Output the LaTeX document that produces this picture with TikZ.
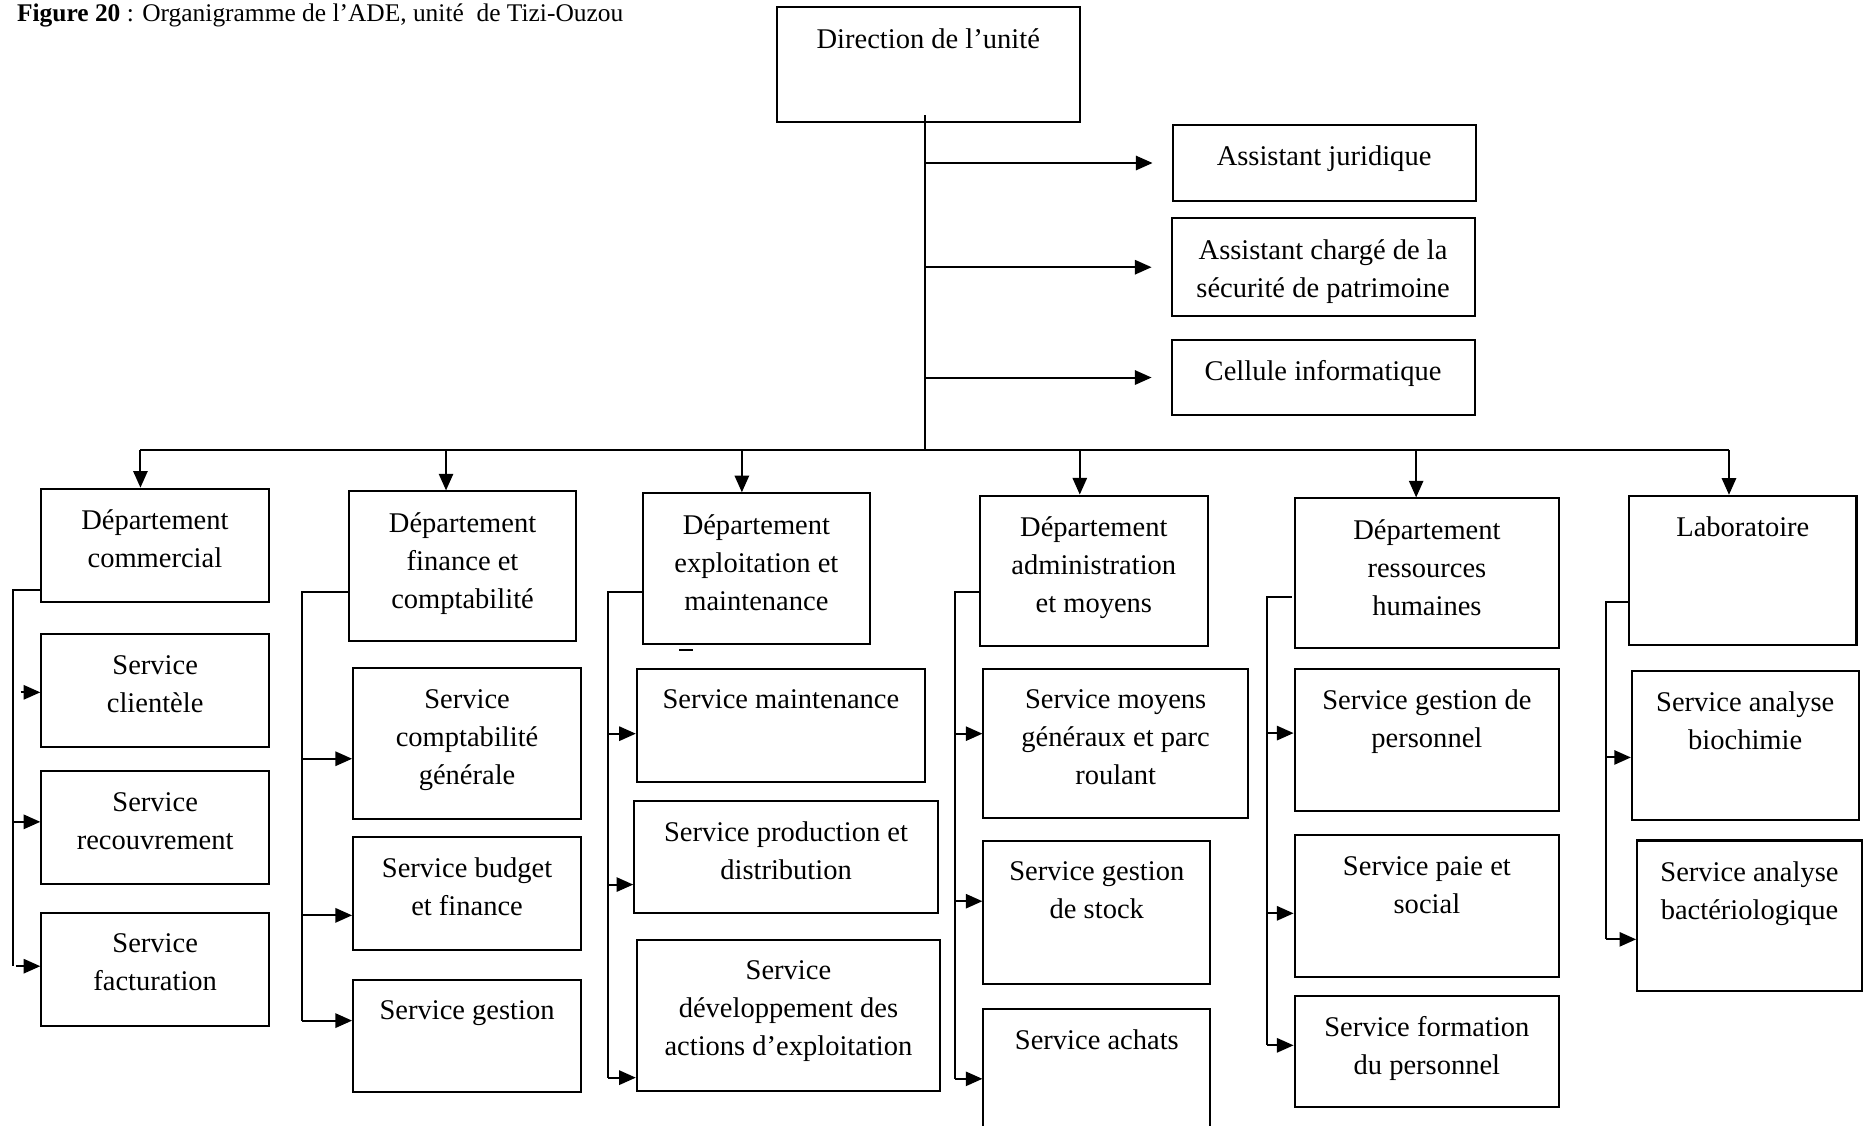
\documentclass[tikz,border=0pt]{standalone}
\usepackage{fontspec}
\setmainfont{Liberation Serif}
\usetikzlibrary{arrows.meta,fit}

\begin{document}
\begin{tikzpicture}[x=0.5pt,y=-0.5pt]
    \tikzset{
      box/.style={draw, line width=0.85pt, inner sep=0pt, rectangle},
      txt/.style={anchor=north, yshift=-9pt, inner sep=0pt, align=center,
                  font=\fontsize{12}{16}\selectfont},
      lien/.style={line width=0.85pt},
      mince/.style={line width=0.6pt},
      fleche/.style={line width=0.85pt, -{Triangle[length=7pt, width=6pt]}}
    }
    \useasboundingbox (0,0) rectangle (1568,947);

    % Titre
    \node[anchor=base west, inner sep=0pt, font=\fontsize{10.7}{12}\selectfont] (titre) at (14,18)
      {\textbf{Figure 20} : Organigramme de l’ADE, unité~ de Tizi-Ouzou};

    % Direction et assistants
    \node[box, fit={(653.8,6.2) (908.7,102.4)}, label={[txt]north:{Direction de l’unité}}] (dir) {};
    \node[box, fit={(986.9,105.2) (1241.9,169.2)}, label={[txt]north:{Assistant juridique}}] (ajur) {};
    \node[box, fit={(986.1,183.8) (1241.1,266)}, label={[txt]north:{Assistant chargé de la\\sécurité de patrimoine}}] (asec) {};
    \node[box, fit={(986.1,286.2) (1241.1,349.3)}, label={[txt]north:{Cellule informatique}}] (cinf) {};

    \coordinate (tronc) at (778.6,96.8);
    \coordinate (busG) at (118.2,378.8);
    \coordinate (busD) at (1455.2,378.8);
    \draw[mince] (tronc) -- (tronc |- busG);
    \draw[fleche, shorten >=8pt] (tronc |- ajur.west) -- (ajur.west);
    \draw[fleche, shorten >=8pt] (tronc |- asec.west) -- (asec.west);
    \draw[fleche, shorten >=8pt] (tronc |- cinf.west) -- (cinf.west);
    \draw[lien] (busG) -- (busD);

    % Departement commercial
    \node[box, fit={(34.8,411.3) (226,506.7)}, label={[txt]north:{Département\\commercial}}] (dcom) {};
    \node[box, fit={(34.8,534) (226.4,629.1)}, label={[txt]north:{Service\\clientèle}}] (scli) {};
    \node[box, fit={(34.8,649.3) (226.4,744.4)}, label={[txt]north:{Service\\recouvrement}}] (srec) {};
    \node[box, fit={(34.8,768.5) (226.4,863.6)}, label={[txt]north:{Service\\facturation}}] (sfac) {};

    % Departement finance et comptabilite
    \node[box, fit={(293.6,413.6) (485,539.8)}, label={[txt]north:{Département\\finance et\\comptabilité}}] (dfin) {};
    \node[box, fit={(297.2,562.5) (489,689.5)}, label={[txt]north:{Service\\comptabilité\\générale}}] (scpt) {};
    \node[box, fit={(297.2,704.1) (489,799.3)}, label={[txt]north:{Service budget\\et finance}}] (sbud) {};
    \node[box, fit={(297.2,824.9) (489,919.2)}, label={[txt]north:{Service gestion}}] (sges) {};

    % Departement exploitation et maintenance
    \node[box, fit={(541.1,415.2) (732.1,541.9)}, label={[txt]north:{Département\\exploitation et\\maintenance}}] (dexp) {};
    \node[box, fit={(536,563.1) (778.5,658)}, label={[txt]north:{Service maintenance}}] (smnt) {};
    \node[box, fit={(533.8,674.1) (789.4,768.3)}, label={[txt]north:{Service production et\\distribution}}] (sprd) {};
    \node[box, fit={(536,791.2) (791.2,918)}, label={[txt]north:{Service\\développement des\\actions d’exploitation}}] (sdev) {};
    \draw[lien] (571.5,546.7) -- (583.1,546.7);

    % Departement administration et moyens
    \node[box, fit={(824.8,417.1) (1016.4,543.8)}, label={[txt]north:{Département\\administration\\et moyens}}] (dadm) {};
    \node[box, fit={(827.7,562.7) (1050.3,688.6)}, label={[txt]north:{Service moyens\\généraux et parc\\roulant}}] (smoy) {};
    \node[box, fit={(827.7,708) (1018.6,827.8)}, label={[txt]north:{Service gestion\\de stock}}] (sstk) {};
    \node[box, fit={(827.7,849.3) (1018.6,965)}, label={[txt]north:{Service achats}}] (sach) {};

    % Departement ressources humaines
    \node[box, fit={(1089.6,419.5) (1312.3,545.3)}, label={[txt]north:{Département\\ressources\\humaines}}] (drh) {};
    \node[box, fit={(1089.6,562.8) (1312.3,682.7)}, label={[txt]north:{Service gestion de\\personnel}}] (sper) {};
    \node[box, fit={(1089.6,703) (1312.3,822.2)}, label={[txt]north:{Service paie et\\social}}] (spai) {};
    \node[box, fit={(1089.6,837.9) (1312.3,931.6)}, label={[txt]north:{Service formation\\du personnel}}] (sfor) {};

    % Laboratoire
    \node[box, fit={(1371.2,417.3) (1562.5,543.1)}, label={[txt]north:{Laboratoire}}] (labo) {};
    \node[box, fit={(1373.5,564.6) (1564.2,690.3)}, label={[txt]north:{Service analyse\\biochimie}}] (sbio) {};
    \node[box, fit={(1377.9,707.4) (1567,833.8)}, label={[txt]north:{Service analyse\\bactériologique}}] (sbac) {};

    % Fleches vers les departements
    \draw[fleche] (busG) -- (busG |- dcom.north);
    \draw[fleche] (375.4,0 |- busG) -- (375.4,0 |- dfin.north);
    \draw[fleche] (624.4,0 |- busG) -- (624.4,0 |- dexp.north);
    \draw[fleche] (908.8,0 |- busG) -- (908.8,0 |- dadm.north);
    \draw[fleche] (1191.9,0 |- busG) -- (1191.9,0 |- drh.north);
    \draw[fleche] (busD) -- (busD |- labo.north);

    % Liaisons vers les services
    \coordinate (v1) at (10.7,496.6);
    \draw[lien] (dcom.west |- v1) -- (v1) -- (v1 |- 0,813.2);
    \draw[fleche] (17.3,582.7) -- (scli.west |- 0,582.7);
    \draw[fleche] (v1 |- 0,691.7) -- (srec.west |- 0,691.7);
    \draw[fleche] (13.3,813.2) -- (sfac.west |- 0,813.2);

    \coordinate (v2) at (254,498.5);
    \draw[lien] (dfin.west |- v2) -- (v2) -- (v2 |- 0,859);
    \draw[fleche] (v2 |- 0,638.6) -- (scpt.west |- 0,638.6);
    \draw[fleche] (v2 |- 0,770.4) -- (sbud.west |- 0,770.4);
    \draw[fleche] (v2 |- 0,859) -- (sges.west |- 0,859);

    \coordinate (v3) at (512,498.2);
    \draw[lien] (dexp.west |- v3) -- (v3) -- (v3 |- 0,907);
    \draw[fleche] (v3 |- 0,617.5) -- (smnt.west |- 0,617.5);
    \draw[fleche] (v3 |- 0,744.5) -- (sprd.west |- 0,744.5);
    \draw[fleche] (v3 |- 0,907) -- (sdev.west |- 0,907);

    \coordinate (v4) at (804,498.2);
    \draw[lien] (dadm.west |- v4) -- (v4) -- (v4 |- 0,908);
    \draw[fleche] (v4 |- 0,617.5) -- (smoy.west |- 0,617.5);
    \draw[fleche] (v4 |- 0,758.5) -- (sstk.west |- 0,758.5);
    \draw[fleche] (v4 |- 0,908) -- (sach.west |- 0,908);

    \coordinate (v5) at (1066.2,502.3);
    \draw[lien] (1087,0 |- v5) -- (v5) -- (v5 |- 0,879.8);
    \draw[fleche] (v5 |- 0,617) -- (sper.west |- 0,617);
    \draw[fleche] (v5 |- 0,768.7) -- (spai.west |- 0,768.7);
    \draw[fleche] (v5 |- 0,879.8) -- (sfor.west |- 0,879.8);

    \coordinate (v6) at (1351.8,507);
    \draw[lien] (labo.west |- v6) -- (v6) -- (v6 |- 0,790.6);
    \draw[fleche] (v6 |- 0,637.5) -- (sbio.west |- 0,637.5);
    \draw[fleche] (v6 |- 0,790.6) -- (sbac.west |- 0,790.6);
\end{tikzpicture}
\end{document}
